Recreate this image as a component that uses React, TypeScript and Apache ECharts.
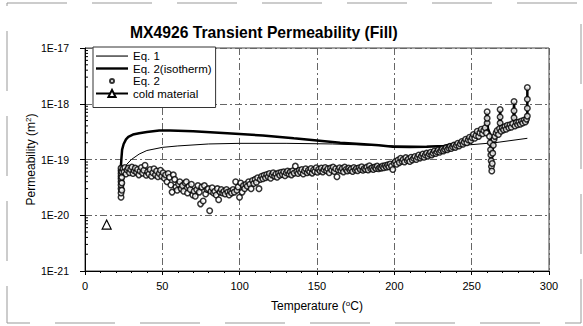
import React, { useEffect, useRef } from "react";
import * as echarts from "echarts";

const titleText = "MX4926 Transient Permeability (Fill)";
const seriesNames = ["Eq. 1", "Eq. 2(isotherm)", "Eq. 2", "cold material"];

// Eq. 1 (thin line): [temperature °C, permeability m²]
const eq1: [number, number][] = [
  [25, 6.5e-20], [27, 8.2e-20], [30, 1.0e-19], [35, 1.25e-19], [40, 1.45e-19],
  [50, 1.65e-19], [60, 1.75e-19], [80, 1.9e-19], [100, 1.95e-19], [130, 1.95e-19],
  [160, 1.9e-19], [190, 1.78e-19], [220, 1.72e-19], [245, 1.8e-19], [265, 2.0e-19],
  [286, 2.4e-19],
];

// Eq. 2 (isotherm) thick line
const eq2Iso: [number, number][] = [
  [22.6, 2.5e-20], [23, 6e-20], [23.5, 1.0e-19], [24, 1.5e-19], [25, 1.9e-19],
  [26.5, 2.3e-19], [28, 2.55e-19], [31, 2.8e-19], [35, 2.95e-19], [40, 3.1e-19],
  [48, 3.3e-19], [55, 3.3e-19], [70, 3.2e-19], [92, 2.95e-19], [115, 2.7e-19],
  [135, 2.4e-19], [150, 2.2e-19], [165, 2.0e-19], [178, 1.9e-19], [190, 1.8e-19],
  [199, 1.7e-19], [210, 1.68e-19], [221, 1.7e-19], [232, 1.75e-19], [240, 1.95e-19],
  [245, 2.2e-19], [250, 2.6e-19], [255, 3.4e-19], [259, 3.7e-19], [260, 7.2e-19],
  [260.5, 3.6e-19], [262, 2.8e-19], [262.6, 6.2e-20], [263.5, 1.5e-19], [265, 2.6e-19],
  [268, 3.4e-19], [268.4, 7.9e-19], [268.8, 3.4e-19], [272, 3.6e-19], [277, 4.0e-19],
  [277.4, 1.1e-18], [277.8, 4.0e-19], [282, 4.3e-19], [286, 4.6e-19], [286, 1.95e-18],
];

// Eq. 2 (circles)
const eq2: [number, number][] = [
  [23.3, 2.1e-20], [23.3, 2.5e-20], [23.3, 3.0e-20], [23.3, 3.5e-20], [23.3, 4.0e-20],
  [23.3, 4.5e-20], [23.3, 5.0e-20], [23.3, 5.6e-20], [23.3, 6.3e-20], [23.3, 7.0e-20],
  [23.8, 2.8e-20], [23.8, 3.8e-20], [23.8, 4.8e-20], [23.8, 6.0e-20],
  [24.5, 6.8e-20], [25.2, 6.0e-20], [25.8, 7.2e-20], [26.5, 5.5e-20], [27.2, 6.5e-20],
  [28, 7.0e-20], [28.8, 5.8e-20], [29.5, 6.6e-20], [30.3, 7.3e-20], [31, 5.6e-20],
  [31.8, 6.3e-20], [32.5, 7.0e-20], [33.3, 5.9e-20], [34, 6.6e-20], [34.8, 5.3e-20],
  [35.6, 6.2e-20], [36.4, 7.2e-20], [37.2, 5.7e-20], [38, 6.4e-20], [38.8, 7.9e-20],
  [39.6, 5.2e-20], [40.5, 6.0e-20], [41.3, 5.5e-20], [42.1, 6.6e-20], [43, 5.0e-20],
  [43.8, 5.8e-20], [44.6, 6.8e-20], [45.5, 5.3e-20], [46.3, 6.2e-20], [47.1, 4.9e-20],
  [48, 5.6e-20], [48.8, 6.4e-20], [49.6, 5.0e-20], [50.5, 5.8e-20], [51.3, 4.6e-20],
  [52.1, 5.3e-20], [53, 4.0e-20], [53.8, 5.6e-20], [54.6, 4.8e-20], [55.5, 3.5e-20],
  [56.3, 2.6e-20], [57.1, 5.3e-20], [58, 4.4e-20], [58.8, 3.2e-20], [59.6, 2.8e-20],
  [60.5, 3.6e-20], [61.3, 4.0e-20], [62.2, 3.0e-20], [63, 3.4e-20], [63.8, 2.7e-20],
  [64.7, 3.8e-20], [65.5, 4.0e-20], [66.3, 2.5e-20], [67.2, 3.3e-20], [68, 2.9e-20],
  [68.8, 3.6e-20], [69.7, 2.3e-20], [70.5, 2.7e-20], [71.3, 2.2e-20], [72.2, 2.9e-20],
  [73, 3.4e-20], [73.9, 2.6e-20], [74.7, 1.6e-20], [75.5, 3.2e-20], [76.4, 1.8e-20],
  [77.2, 3.4e-20], [78, 2.4e-20], [78.9, 2.9e-20], [79.7, 3.0e-20], [80.6, 1.2e-20],
  [81.4, 2.7e-20], [82.2, 3.1e-20], [83.1, 2.5e-20], [83.9, 2.7e-20], [84.8, 2.3e-20],
  [85.6, 3.0e-20], [86.4, 1.9e-20], [87.3, 2.6e-20], [88.1, 2.9e-20], [89, 2.5e-20],
  [89.8, 2.7e-20], [90.6, 2.4e-20], [91.5, 2.9e-20], [92.3, 2.6e-20], [93.2, 2.3e-20],
  [94, 2.7e-20], [94.8, 2.5e-20], [95.7, 2.9e-20], [96.5, 2.6e-20], [97.4, 4.0e-20],
  [98.2, 2.8e-20], [99, 3.2e-20], [99.9, 2.1e-20], [100.7, 3.8e-20], [101.6, 2.6e-20],
  [102.4, 3.4e-20], [103.2, 3.0e-20], [104.1, 3.6e-20], [104.9, 3.3e-20], [105.8, 4.0e-20],
  [106.6, 3.6e-20], [107.4, 3.0e-20], [108.3, 4.2e-20], [109.1, 3.7e-20], [110, 4.4e-20],
  [110.8, 3.9e-20], [111.6, 4.7e-20], [112.5, 3.0e-20], [113.3, 4.4e-20], [114.2, 5.0e-20],
  [115, 4.5e-20], [115.8, 5.2e-20], [116.7, 4.7e-20], [117.5, 5.4e-20], [118.4, 4.9e-20],
  [119.2, 5.6e-20], [120, 4.6e-20], [120.9, 5.3e-20], [121.7, 5.8e-20], [122.6, 5.0e-20],
  [123.4, 5.5e-20], [124.2, 4.8e-20], [125.1, 5.7e-20], [125.9, 5.2e-20], [126.8, 5.9e-20],
  [127.6, 5.4e-20], [128.5, 6.0e-20], [129.3, 5.1e-20], [130.1, 5.8e-20], [131, 6.2e-20],
  [131.8, 5.5e-20], [132.7, 6.0e-20], [133.5, 5.3e-20], [134.3, 6.3e-20], [135.2, 5.7e-20],
  [136, 7.6e-20], [136.9, 6.1e-20], [137.7, 5.6e-20], [138.5, 6.4e-20], [139.4, 5.9e-20],
  [140.2, 6.6e-20], [141.1, 5.5e-20], [141.9, 6.2e-20], [142.7, 6.8e-20], [143.6, 5.8e-20],
  [144.4, 6.4e-20], [145.3, 6.0e-20], [146.1, 6.9e-20], [146.9, 5.7e-20], [147.8, 6.5e-20],
  [148.6, 6.1e-20], [149.5, 7.1e-20], [150.3, 5.9e-20], [151.1, 6.7e-20], [152, 6.2e-20],
  [152.8, 7.0e-20], [153.7, 6.0e-20], [154.5, 6.6e-20], [155.3, 7.2e-20], [156.2, 6.3e-20],
  [157, 6.8e-20], [157.9, 5.8e-20], [158.7, 7.0e-20], [159.5, 6.4e-20], [160.4, 7.3e-20],
  [161.2, 6.1e-20], [162.1, 6.8e-20], [162.9, 4.9e-20], [163.7, 6.5e-20], [164.6, 7.1e-20],
  [165.4, 6.3e-20], [166.3, 6.9e-20], [167.1, 6.0e-20], [167.9, 7.3e-20], [168.8, 6.6e-20],
  [169.6, 6.2e-20], [170.5, 7.0e-20], [171.3, 6.4e-20], [172.1, 6.8e-20], [173, 6.1e-20],
  [173.8, 7.2e-20], [174.7, 6.5e-20], [175.5, 6.9e-20], [176.3, 6.3e-20], [177.2, 7.1e-20],
  [178, 6.6e-20], [178.9, 7.4e-20], [179.7, 6.4e-20], [180.5, 6.9e-20], [181.4, 6.6e-20],
  [182.2, 7.3e-20], [183.1, 6.5e-20], [183.9, 7.7e-20], [184.7, 6.8e-20], [185.6, 7.1e-20],
  [186.4, 6.6e-20], [187.3, 7.3e-20], [188.1, 6.9e-20], [188.9, 7.6e-20], [189.8, 6.8e-20],
  [190.6, 7.2e-20], [191.5, 7.0e-20], [192.3, 7.6e-20], [193.1, 7.1e-20], [194, 7.8e-20],
  [194.8, 7.3e-20], [195.7, 8.0e-20], [196.5, 7.4e-20], [197.3, 8.3e-20], [198.2, 7.6e-20],
  [199, 6.6e-20], [199.9, 8.6e-20], [200.7, 9.2e-20], [201.5, 8.2e-20], [202.4, 9.8e-20],
  [203.2, 8.8e-20], [204.1, 1.05e-19], [204.9, 9.3e-20], [205.7, 1.0e-19], [206.6, 9.0e-20],
  [207.4, 1.08e-19], [208.3, 9.6e-20], [209.1, 1.02e-19], [210, 9.2e-20], [210.8, 1.1e-19],
  [211.6, 9.8e-20], [212.5, 1.05e-19], [213.3, 1.13e-19], [214.2, 1.0e-19], [215, 1.1e-19],
  [215.8, 1.2e-19], [216.7, 1.06e-19], [217.5, 1.15e-19], [218.4, 1.25e-19], [219.2, 1.1e-19],
  [220, 1.2e-19], [220.9, 1.3e-19], [221.7, 1.15e-19], [222.6, 1.25e-19], [223.4, 1.35e-19],
  [224.2, 1.2e-19], [225.1, 1.3e-19], [225.9, 1.42e-19], [226.8, 1.28e-19], [227.6, 1.38e-19],
  [228.4, 1.48e-19], [229.3, 1.35e-19], [230.1, 1.45e-19], [231, 1.55e-19], [231.8, 1.42e-19],
  [232.6, 1.52e-19], [233.5, 1.63e-19], [234.3, 1.5e-19], [235.2, 1.6e-19], [236, 1.72e-19],
  [236.8, 1.58e-19], [237.7, 1.7e-19], [238.5, 1.82e-19], [239.4, 1.65e-19], [240.2, 1.8e-19],
  [241, 1.95e-19], [241.9, 1.75e-19], [242.7, 1.9e-19], [243.6, 2.1e-19], [244.4, 1.88e-19],
  [245.2, 2.05e-19], [246.1, 2.3e-19], [246.9, 2.0e-19], [247.8, 2.25e-19], [248.6, 2.5e-19],
  [249.4, 2.2e-19], [250.3, 2.45e-19], [251.1, 2.8e-19], [252, 2.4e-19], [252.8, 2.7e-19],
  [253.6, 3.2e-19], [254.5, 2.6e-19], [255.3, 3.0e-19], [256.2, 3.5e-19], [257, 2.9e-19],
  [257.8, 3.3e-19], [258.7, 3.7e-19], [259.5, 3.0e-19],
  [260, 4.5e-19], [260, 5.5e-19], [260, 7.2e-19],
  [261.5, 2.6e-19], [262, 2.0e-19], [262.2, 1.5e-19], [262.4, 1.2e-19], [262.6, 9.5e-20],
  [262.8, 7.5e-20], [263, 6.2e-20], [263.3, 8.5e-20], [263.6, 1.3e-19], [264, 1.8e-19],
  [264.5, 2.3e-19], [265, 2.6e-19], [265.8, 3.0e-19], [266.5, 3.3e-19], [267.3, 2.8e-19],
  [268, 3.6e-19], [268.4, 4.5e-19], [268.4, 5.8e-19], [268.4, 7.9e-19], [269, 3.2e-19],
  [269.8, 3.7e-19], [270.6, 3.4e-19], [271.5, 3.9e-19], [272.3, 3.5e-19], [273.1, 4.1e-19],
  [274, 3.7e-19], [274.8, 4.2e-19], [275.6, 3.8e-19], [276.5, 4.4e-19], [277.4, 5.6e-19],
  [277.4, 7.5e-19], [277.4, 1.1e-18], [278, 4.0e-19], [278.9, 4.6e-19], [279.7, 4.2e-19],
  [280.5, 4.7e-19], [281.4, 4.3e-19], [282.2, 4.9e-19], [283, 4.5e-19], [283.9, 5.1e-19],
  [284.7, 4.7e-19], [285.5, 5.3e-19], [286, 6.0e-19], [286, 8.3e-19], [286, 1.2e-18],
  [286, 1.95e-18],
];

// cold material (single triangle)
const coldMaterial: [number, number][] = [[14, 6.8e-21]];

// axis ranges / ticks
const xMin = 0;
const xMax = 300;
const xInterval = 50;
const yMinExp = -21;
const yMaxExp = -17;
const yDecadeExponents = [-21, -20, -19, -18];
const yMinorMultipliers = [2, 3, 4, 5, 6, 7, 8, 9];

// ECharts rounds tick values to 20 decimals, so values are plotted in units of 1E-21 m²
const UNIT_EXP = -21;
const toUnit = (v: number) => v * Math.pow(10, -UNIT_EXP);
const scaled = (arr: [number, number][]) => arr.map(([t, v]) => [t, toUnit(v)]);

const FONT = "'Liberation Sans', Arial, Helvetica, sans-serif";

// legend icon shapes (box 32 x 9)
const ICON_BOX = "M0,0 L0,0 M32,9 L32,9 ";
const iconThin = "path://" + ICON_BOX + "M0,4 L32,4 L32,5.1 L0,5.1 Z";
const iconThick = "path://" + ICON_BOX + "M0,3.3 L32,3.3 L32,5.7 L0,5.7 Z";
const iconCircle = "path://" + ICON_BOX + "M14,4.5 A2,2 0 1,0 18,4.5 A2,2 0 1,0 14,4.5 Z";

export default function App() {
  const ref = useRef<HTMLDivElement>(null);

  useEffect(() => {
    if (!ref.current) return;
    const chart = echarts.init(ref.current, undefined, { renderer: "svg" });

    const minorTickValues: number[][] = [];
    yDecadeExponents.forEach((e) => {
      yMinorMultipliers.forEach((m) => minorTickValues.push([xMin, toUnit(m * Math.pow(10, e))]));
    });

    const dash = [7, 3, 2, 3];
    const supRich = {
      s: { fontFamily: FONT, fontSize: 8, color: "#000", verticalAlign: "top", lineHeight: 14 },
    };

    const option: any = {
      animation: false,
      backgroundColor: "#ffffff",
      textStyle: { fontFamily: FONT, color: "#000" },
      title: {
        text: titleText,
        left: 125,
        top: 19,
        textStyle: { fontFamily: FONT, fontSize: 15.7, fontWeight: "bold", color: "#000" },
      },
      graphic: [
        {
          type: "rect",
          shape: { x: 7, y: 3, width: 574, height: 320 },
          style: { fill: "none", stroke: "#999", lineWidth: 1, lineDash: [60, 25] },
          silent: true,
          z: -1,
        },
      ],
      grid: {
        left: 85,
        right: 34,
        top: 48,
        bottom: 55,
        outerBoundsMode: "none",
        containLabel: false,
        show: true,
        borderColor: "#444",
        borderWidth: 1,
      },
      legend: {
        orient: "vertical",
        left: 93,
        top: 47,
        itemWidth: 32,
        itemHeight: 9,
        itemGap: 0.5,
        padding: [3, 4, 8, 2],
        borderColor: "#333",
        borderWidth: 1,
        backgroundColor: "#fff",
        textStyle: { fontFamily: FONT, fontSize: 11.5, color: "#000", lineHeight: 11.5 },
        data: [
          { name: seriesNames[0], icon: iconThin },
          { name: seriesNames[1], icon: iconThick },
          { name: seriesNames[2], icon: iconCircle },
          { name: seriesNames[3] },
        ],
        selectedMode: false,
      },
      xAxis: {
        type: "value",
        min: xMin,
        max: xMax,
        interval: xInterval,
        name: "Temperature ({s|o}C)",
        nameLocation: "middle",
        nameGap: 28,
        nameTextStyle: { fontFamily: FONT, fontSize: 12, color: "#000", rich: supRich },
        axisLine: { show: true, onZero: false, lineStyle: { color: "#000", width: 1 } },
        axisTick: { show: true, length: 4, lineStyle: { color: "#000" } },
        minorTick: { show: true, splitNumber: 5, length: 2, lineStyle: { color: "#000" } },
        axisLabel: { fontFamily: FONT, fontSize: 11, color: "#000", margin: 9 },
        splitLine: { show: true, lineStyle: { color: "#666", width: 1, type: dash } },
      },
      yAxis: {
        type: "log",
        logBase: 10,
        min: Math.pow(10, yMinExp - UNIT_EXP),
        max: Math.pow(10, yMaxExp - UNIT_EXP),
        interval: 1,
        name: "Permeability (m{s|2})",
        nameLocation: "middle",
        nameGap: 47,
        nameMoveOverlap: false,
        nameTextStyle: { fontFamily: FONT, fontSize: 12, color: "#000", rich: supRich },
        axisLine: { show: true, onZero: false, lineStyle: { color: "#000", width: 1 } },
        axisTick: { show: true, length: 5, lineStyle: { color: "#000" } },
        axisLabel: {
          fontFamily: FONT,
          fontSize: 10.5,
          color: "#000",
          margin: 16,
          showMinLabel: true,
          showMaxLabel: true,
          formatter: (v: number) => "1E" + (Math.round(Math.log10(v)) + UNIT_EXP),
        },
        splitLine: { show: true, lineStyle: { color: "#666", width: 1, type: dash } },
      },
      series: [
        {
          name: "Eq. 1",
          type: "line",
          data: scaled(eq1),
          symbol: "none",
          showSymbol: false,
          lineStyle: { color: "#000", width: 1 },
          itemStyle: { color: "#000" },
          z: 2,
        },
        {
          name: "Eq. 2(isotherm)",
          type: "line",
          data: scaled(eq2Iso),
          symbol: "none",
          showSymbol: false,
          lineStyle: { color: "#000", width: 2.5 },
          itemStyle: { color: "#000" },
          z: 2,
        },
        {
          name: "Eq. 2",
          type: "scatter",
          data: scaled(eq2),
          symbol: "circle",
          symbolSize: 5.5,
          itemStyle: { color: "#fff", borderColor: "#000", borderWidth: 1.5 },
          z: 3,
        },
        {
          name: "cold material",
          type: "line",
          data: scaled(coldMaterial),
          symbol: "triangle",
          symbolSize: 9,
          showSymbol: true,
          lineStyle: { color: "#000", width: 3.5 },
          itemStyle: { color: "#fff", borderColor: "#000", borderWidth: 1.2 },
          z: 3,
        },
        {
          name: "minorTicks",
          type: "custom",
          coordinateSystem: "cartesian2d",
          data: minorTickValues,
          silent: true,
          renderItem: (params: any, api: any) => {
            const p = api.coord([api.value(0), api.value(1)]);
            return {
              type: "line",
              shape: { x1: p[0], y1: p[1], x2: p[0] + 3, y2: p[1] },
              style: { stroke: "#000", lineWidth: 1 },
            };
          },
          z: 4,
        },
      ],
    };

    chart.setOption(option);
    return () => chart.dispose();
  }, []);

  return (
    <div
      ref={ref}
      style={{ position: "fixed", left: 0, top: 0, width: 583, height: 326, background: "#fff" }}
    />
  );
}
